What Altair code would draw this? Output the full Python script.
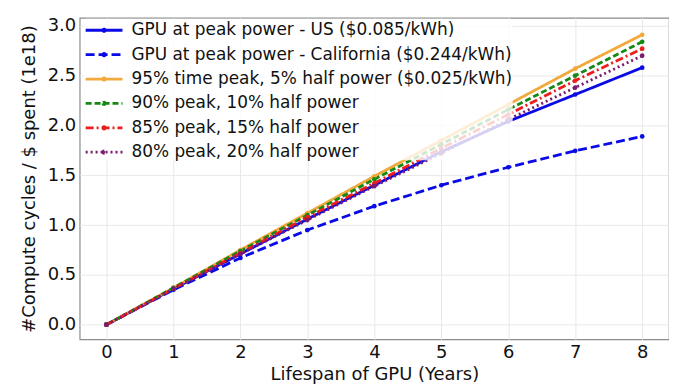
import altair as alt
import pandas as pd

years = [0, 1, 2, 3, 4, 5, 6, 7, 8]
series_names = [
    "GPU at peak power - US ($0.085/kWh)",
    "GPU at peak power - California ($0.244/kWh)",
    "95% time peak, 5% half power ($0.025/kWh)",
    "90% peak, 10% half power",
    "85% peak, 15% half power",
    "80% peak, 20% half power",
]
us_vals = [0, 0.36, 0.71, 1.06, 1.40, 1.735, 2.04, 2.31, 2.58]
cal_vals = [0, 0.35, 0.67, 0.95, 1.19, 1.40, 1.58, 1.745, 1.89]
p95_vals = [0, 0.37, 0.75, 1.12, 1.49, 1.85, 2.21, 2.57, 2.91]
p90_vals = [0, 0.37, 0.74, 1.10, 1.46, 1.81, 2.16, 2.50, 2.84]
p85_vals = [0, 0.36, 0.72, 1.08, 1.42, 1.77, 2.11, 2.45, 2.77]
p80_vals = [0, 0.36, 0.71, 1.05, 1.39, 1.72, 2.06, 2.38, 2.70]

colors = ["#0a0ae6", "#0a0ae6", "#f2a93b", "#138a13", "#ee1c1c", "#7a1a70"]
dashes = [[1, 0], [9, 4], [1, 0], [6, 3], [8, 3, 2, 3], [2, 3]]
widths = [2.8, 2.8, 1.8, 2, 2, 2]

rows = []
for i, (name, vals) in enumerate(zip(series_names, [us_vals, cal_vals, p95_vals, p90_vals, p85_vals, p80_vals])):
    for yr, v in zip(years, vals):
        rows.append({"year": yr, "value": v, "series": name, "order": i})
df = pd.DataFrame(rows)

FONT = "DejaVu Sans"

legend = alt.Legend(
    title=None,
    orient="none",
    legendX=4,
    legendY=1,
    labelFontSize=17,
    labelFont=FONT,
    labelColor="#111",
    labelLimit=500,
    symbolType="M-1.85,0H1.85M-0.12,0a0.12,0.12 0 1,0 0.24,0a0.12,0.12 0 1,0 -0.24,0",
    symbolSize=400,
    symbolOffset=9,
    labelOffset=16,
    rowPadding=4.5,
    padding=0,
    fillColor="rgba(255,255,255,0.8)",
    cornerRadius=3,
)

scale_domain = series_names

base = alt.Chart(df)

lines = base.mark_line(
    point=alt.OverlayMarkDef(size=22, filled=True, opacity=1)
).encode(
    x=alt.X("year:Q",
            scale=alt.Scale(domain=[-0.4, 8.4], nice=False, zero=False),
            axis=alt.Axis(values=years, title="Lifespan of GPU (Years)", format="d")),
    y=alt.Y("value:Q",
            scale=alt.Scale(domain=[-0.147, 3.08], nice=False, zero=False),
            axis=alt.Axis(values=[0, 0.5, 1.0, 1.5, 2.0, 2.5, 3.0], format=".1f",
                          title="#Compute cycles / $ spent (1e18)")),
    color=alt.Color("series:N", scale=alt.Scale(domain=scale_domain, range=colors), legend=legend),
    strokeDash=alt.StrokeDash("series:N", scale=alt.Scale(domain=scale_domain, range=dashes), legend=legend),
    strokeWidth=alt.StrokeWidth("series:N", scale=alt.Scale(domain=scale_domain, range=widths), legend=legend),
    order=alt.Order("year:Q"),
)

chart = lines.properties(
    width=592,
    height=323,
    padding={"left": 72, "top": 9, "right": 0, "bottom": 46},
    autosize=alt.AutoSizeParams(type="none"),
).configure_view(
    stroke="#8c8c8c",
    strokeWidth=1.2,
).configure_axis(
    labelFont=FONT,
    titleFont=FONT,
    labelFontSize=18,
    titleFontSize=18,
    labelColor="#111",
    titleColor="#111",
    titleFontWeight="normal",
    grid=True,
    gridColor="#e8e8e8",
    gridWidth=1,
    domain=False,
    ticks=False,
    labelPadding=4,
).configure_axisY(
    titlePadding=9,
).configure_axisX(
    titlePadding=4,
)

chart.save("out.html", embed_options={"renderer": "svg", "actions": False})
